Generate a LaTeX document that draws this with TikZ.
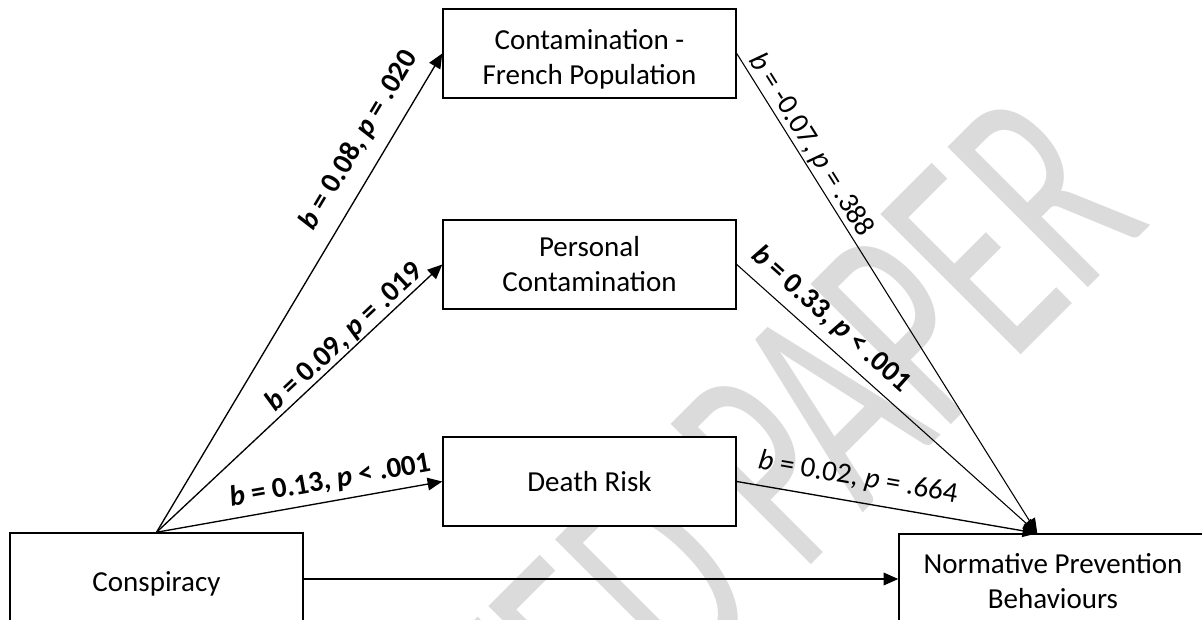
\documentclass[tikz,border=0pt]{standalone}
\usepackage{fontspec}
\setmainfont{Carlito}
\usepackage{graphicx}
\usetikzlibrary{arrows.meta,calc}
\definecolor{wmgray}{RGB}{219,219,219}
\begin{document}
\begin{tikzpicture}[x=0.75pt,y=-0.75pt,
  box/.style={draw, line width=1.1pt, fill=white, minimum width=219.75pt, minimum height=66.75pt, inner sep=0pt, align=center, font=\fontsize{21.75pt}{26.25pt}\selectfont},
  arr/.style={line width=1pt, -{Triangle[length=11pt,width=9.5pt]}},
  thinarr/.style={line width=0.8pt, -{Triangle[length=11pt,width=9.5pt]}},
  lbl/.style={sloped, above, font=\fontsize{21.75pt}{26.25pt}\selectfont\bfseries},
  lbln/.style={sloped, above, font=\fontsize{21.75pt}{26.25pt}\selectfont}]
\useasboundingbox (0,0) rectangle (1202,620);
\clip (0,0) rectangle (1202,620);
% watermark
\node[rotate=45, anchor=base east, inner sep=0pt, text=wmgray, font=\fontsize{232pt}{240pt}\selectfont] (wm) at (1153,223) {\scalebox{0.625}[1]{ACCEPTED PAPER}};
% boxes
\node[box] (cfp) at (589.5,53.5) {\rule{0pt}{24pt}Contamination -\\French Population};
\node[box] (pc) at (589.5,264.5) {Personal\\Contamination};
\node[box] (dr) at (589.5,481.5) {Death Risk};
\node[box, minimum height=75.75pt] (consp) at (156.5,583.5) {Conspiracy};
\node[box, minimum width=231pt, minimum height=67.5pt] (norm) at (1053,579) {\rule{0pt}{18pt}Normative Prevention\\Behaviours};
\coordinate (conv) at ($(norm.north west)+(139,0)$);
% paths a
\draw[arr] (consp.north) -- node[lbl, pos=0.79, inner sep=10.5pt] (l1) {\textit{b} = 0.08, \textit{p} = .020} (cfp.west);
\draw[arr] (consp.north) -- node[lbl, pos=0.69, inner sep=0.5pt] (l2) {\textit{b} = 0.09, \textit{p} = .019} (pc.west);
\draw[arr] (consp.north) -- node[lbl, pos=0.62, inner sep=5.3pt] (l3) {\textit{b} = 0.13, \textit{p} < .001} (dr.west);
% paths b
\draw[thinarr] (cfp.east) -- node[lbln, pos=0.207, inner sep=1.1pt] (l4) {\textit{b} = -0.07, \textit{p} = .388} (conv);
\draw[thinarr] (pc.east) -- node[lbl, pos=0.265, inner sep=6.8pt] (l5) {\textit{b} = 0.33, \textit{p} < .001} (conv);
\draw[arr] (dr.east) -- node[lbln, pos=0.39, inner sep=8.3pt] (l6) {\textit{b} = 0.02, \textit{p} = .664} (conv);
% direct path
\draw[arr] (consp.east |- norm.west) -- (norm.west);
\end{tikzpicture}
\end{document}
